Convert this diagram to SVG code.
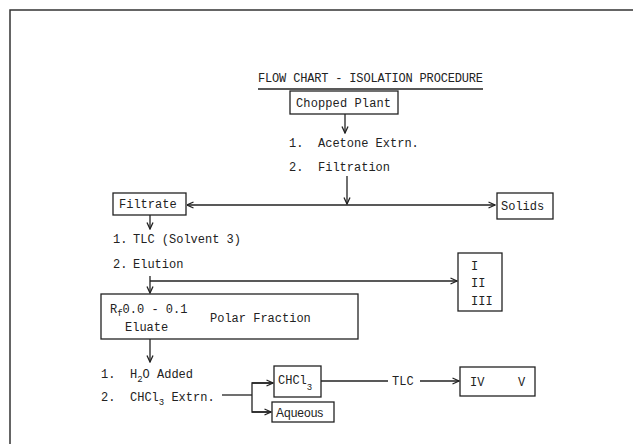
<svg xmlns="http://www.w3.org/2000/svg" width="633" height="444" viewBox="0 0 633 444">
<defs>
<style>
.t{font-family:"Liberation Mono","Courier New",monospace;font-size:12px;fill:#222}
.s{font-family:"Liberation Sans",Arial,sans-serif;font-size:12px;fill:#222}
.b{fill:#fff;stroke:#222;stroke-width:1.3}
.c{fill:none;stroke:#222;stroke-width:1.3}
</style>
<marker id="ah" viewBox="0 0 8 8" refX="7.5" refY="4" markerWidth="8" markerHeight="8" markerUnits="userSpaceOnUse" orient="auto-start-reverse">
<path d="M1,1 L7.5,4 L1,7" fill="none" stroke="#222" stroke-width="1.3"/>
</marker>
</defs>
<rect width="633" height="444" fill="#fff"/>
<g id="frame">
<path d="M10,444 L10,10 L633,10" fill="none" stroke="#333" stroke-width="1.5"/>
</g>
<g id="title">
<text class="t" x="258" y="82" font-size="11.5" textLength="225">FLOW CHART - ISOLATION PROCEDURE</text>
<line x1="258" y1="89" x2="483" y2="89" stroke="#222" stroke-width="1.3"/>
</g>
<g id="connectors">
<line class="c" x1="345" y1="114" x2="345" y2="133" marker-end="url(#ah)"/>
<line class="c" x1="347" y1="176" x2="347" y2="204" marker-end="url(#ah)"/>
<line class="c" x1="187" y1="205" x2="495" y2="205" marker-start="url(#ah)" marker-end="url(#ah)"/>
<line class="c" x1="150" y1="215" x2="150" y2="229" marker-end="url(#ah)"/>
<line class="c" x1="150" y1="276" x2="150" y2="293" marker-end="url(#ah)"/>
<line class="c" x1="150" y1="281" x2="457" y2="281" marker-end="url(#ah)"/>
<line class="c" x1="150" y1="339" x2="150" y2="362" marker-end="url(#ah)"/>
<line class="c" x1="222" y1="395" x2="252" y2="395"/>
<polyline class="c" points="273,383 252,383 252,412 271,412"/>
<line class="c" x1="252" y1="383" x2="273" y2="383" marker-end="url(#ah)"/>
<line class="c" x1="252" y1="412" x2="271" y2="412" marker-end="url(#ah)"/>
<line class="c" x1="321" y1="381" x2="388" y2="381"/>
<line class="c" x1="420" y1="381" x2="459" y2="381" marker-end="url(#ah)"/>
</g>
<g id="chopped-plant">
<rect class="b" x="290" y="91" width="108" height="23"/>
<text class="t" x="296" y="107" textLength="95">Chopped Plant</text>
</g>
<g id="step1-labels">
<text class="t" x="289" y="147">1.</text>
<text class="t" x="318" y="147">Acetone Extrn.</text>
<text class="t" x="289" y="171">2.</text>
<text class="t" x="318" y="171">Filtration</text>
</g>
<g id="filtrate">
<rect class="b" x="113" y="193" width="73" height="22"/>
<text class="t" x="119" y="208">Filtrate</text>
</g>
<g id="solids">
<rect class="b" x="497" y="193" width="56" height="26"/>
<text class="t" x="501" y="210">Solids</text>
</g>
<g id="step2-labels">
<text class="t" x="113" y="243">1.</text>
<text class="t" x="133" y="243">TLC (Solvent 3)</text>
<text class="t" x="113" y="268">2.</text>
<text class="t" x="133" y="268">Elution</text>
</g>
<g id="fractions-1-3">
<rect class="b" x="458" y="253" width="44" height="58"/>
<text class="t" x="471" y="270">I</text>
<text class="t" x="471" y="287">II</text>
<text class="t" x="471" y="305">III</text>
</g>
<g id="polar-fraction">
<rect class="b" x="101" y="294" width="257" height="45"/>
<text class="t" x="110" y="313">R<tspan font-size="9" dy="3">f</tspan><tspan dy="-3">0.0 - 0.1</tspan></text>
<text class="t" x="125" y="331">Eluate</text>
<text class="t" x="210" y="322">Polar Fraction</text>
</g>
<g id="step3-labels">
<text class="t" x="101" y="378">1.</text>
<text class="t" x="130" y="378">H<tspan font-size="9" dy="4">2</tspan><tspan dy="-4">O Added</tspan></text>
<text class="t" x="101" y="401">2.</text>
<text class="t" x="130" y="401">CHCl<tspan font-size="9" dy="4">3</tspan><tspan dy="-4"> Extrn.</tspan></text>
</g>
<g id="chcl3">
<rect class="b" x="274" y="366" width="47" height="31"/>
<text class="t" x="278" y="384">CHCl<tspan font-size="9" dy="6">3</tspan></text>
</g>
<g id="aqueous">
<rect class="b" x="272" y="402" width="62" height="20"/>
<text class="s" x="276" y="417">Aqueous</text>
</g>
<g id="tlc-label">
<text class="t" x="392" y="385">TLC</text>
</g>
<g id="fractions-4-5">
<rect class="b" x="460" y="367" width="75" height="29"/>
<text class="t" x="470" y="386">IV</text>
<text class="t" x="518" y="386">V</text>
</g>
</svg>
